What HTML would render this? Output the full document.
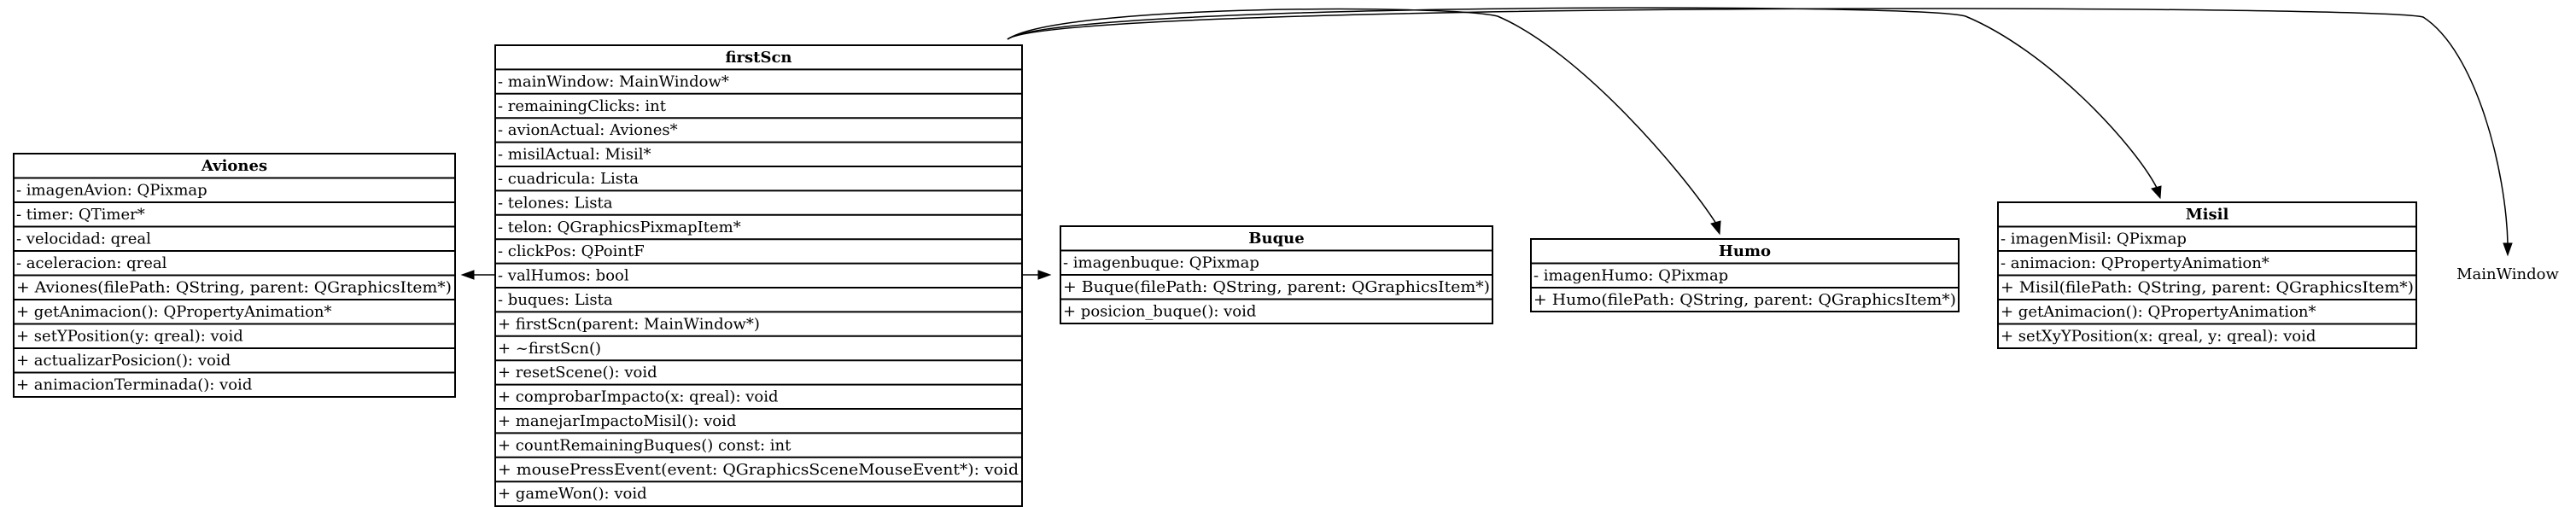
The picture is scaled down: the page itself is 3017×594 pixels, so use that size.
<!DOCTYPE html>
<html><head><meta charset="utf-8"><style>
html,body{margin:0;padding:0;background:#fff;}
svg{display:block;}
text{font-family:"DejaVu Serif","Liberation Serif",serif;font-size:18px;fill:#000;}
.b{font-weight:bold;}
</style></head><body>
<svg width="3017" height="594" viewBox="0 0 3017 594" xmlns="http://www.w3.org/2000/svg">
<g fill="none" stroke="#000" stroke-width="2">
<!-- firstScn -->
<rect x="580" y="53" width="617" height="540"/>
<!-- Aviones -->
<rect x="16" y="180" width="517" height="285"/>
<!-- Buque -->
<rect x="1242" y="265" width="506" height="114"/>
<!-- Humo -->
<rect x="1793" y="280" width="501" height="85"/>
<!-- Misil -->
<rect x="2340" y="237" width="490" height="171"/>
</g>
<g stroke="#000" stroke-width="2" id="lines"></g>
<g stroke="#000" stroke-width="2">
<!-- firstScn rows -->
<line x1="580" y1="81.4" x2="1197" y2="81.4"/><line x1="580" y1="109.8" x2="1197" y2="109.8"/><line x1="580" y1="138.2" x2="1197" y2="138.2"/><line x1="580" y1="166.6" x2="1197" y2="166.6"/><line x1="580" y1="195" x2="1197" y2="195"/><line x1="580" y1="223.4" x2="1197" y2="223.4"/><line x1="580" y1="251.8" x2="1197" y2="251.8"/><line x1="580" y1="280.2" x2="1197" y2="280.2"/><line x1="580" y1="308.6" x2="1197" y2="308.6"/><line x1="580" y1="337" x2="1197" y2="337"/><line x1="580" y1="365.4" x2="1197" y2="365.4"/><line x1="580" y1="393.8" x2="1197" y2="393.8"/><line x1="580" y1="422.2" x2="1197" y2="422.2"/><line x1="580" y1="450.6" x2="1197" y2="450.6"/><line x1="580" y1="479" x2="1197" y2="479"/><line x1="580" y1="507.4" x2="1197" y2="507.4"/><line x1="580" y1="535.8" x2="1197" y2="535.8"/><line x1="580" y1="564.2" x2="1197" y2="564.2"/>
<!-- Aviones rows -->
<line x1="16" y1="208.5" x2="533" y2="208.5"/><line x1="16" y1="237" x2="533" y2="237"/><line x1="16" y1="265.5" x2="533" y2="265.5"/><line x1="16" y1="294" x2="533" y2="294"/><line x1="16" y1="322.5" x2="533" y2="322.5"/><line x1="16" y1="351" x2="533" y2="351"/><line x1="16" y1="379.5" x2="533" y2="379.5"/><line x1="16" y1="408" x2="533" y2="408"/><line x1="16" y1="436.5" x2="533" y2="436.5"/>
<!-- Buque rows -->
<line x1="1242" y1="293.5" x2="1748" y2="293.5"/><line x1="1242" y1="322" x2="1748" y2="322"/><line x1="1242" y1="350.5" x2="1748" y2="350.5"/>
<!-- Humo rows -->
<line x1="1793" y1="308.5" x2="2294" y2="308.5"/><line x1="1793" y1="337" x2="2294" y2="337"/>
<!-- Misil rows -->
<line x1="2340" y1="265.5" x2="2830" y2="265.5"/><line x1="2340" y1="294" x2="2830" y2="294"/><line x1="2340" y1="322.5" x2="2830" y2="322.5"/><line x1="2340" y1="351" x2="2830" y2="351"/><line x1="2340" y1="379.5" x2="2830" y2="379.5"/>
</g>
<!-- edges -->
<g fill="none" stroke="#000" stroke-width="1.5">
<line x1="580" y1="322" x2="553" y2="322"/>
<line x1="1197" y1="322" x2="1218" y2="322"/>
<path d="M1180,46 C1240,5 1700,5 1754,19 C1850,60 1970,200 2010,262"/>
<path d="M1180,46 C1240,3 2250,3 2302,19 C2400,60 2500,170 2526,220"/>
<path d="M1180,46 C1240,2 2780,5 2838,20 C2900,60 2935,200 2937,285"/>
</g>
<g fill="#000" stroke="#000" stroke-width="1">
<polygon points="541,322 555,317 555,327"/>
<polygon points="1230,322 1216,317 1216,327"/>
<polygon points="2014,274 2004,262 2015,259"/>
<polygon points="2530,232 2520,221 2531,218"/>
<polygon points="2937,299 2932,285 2942,285"/>
</g>
<!-- firstScn text -->
<text class="b" x="888.5" y="73" text-anchor="middle">firstScn</text>
<text x="583" y="101.4">- mainWindow: MainWindow*</text>
<text x="583" y="129.8">- remainingClicks: int</text>
<text x="583" y="158.2">- avionActual: Aviones*</text>
<text x="583" y="186.6">- misilActual: Misil*</text>
<text x="583" y="215">- cuadricula: Lista</text>
<text x="583" y="243.4">- telones: Lista</text>
<text x="583" y="271.8">- telon: QGraphicsPixmapItem*</text>
<text x="583" y="300.2">- clickPos: QPointF</text>
<text x="583" y="328.6">- valHumos: bool</text>
<text x="583" y="357">- buques: Lista</text>
<text x="583" y="385.4">+ firstScn(parent: MainWindow*)</text>
<text x="583" y="413.8">+ ~firstScn()</text>
<text x="583" y="442.2">+ resetScene(): void</text>
<text x="583" y="470.6">+ comprobarImpacto(x: qreal): void</text>
<text x="583" y="499">+ manejarImpactoMisil(): void</text>
<text x="583" y="527.4">+ countRemainingBuques() const: int</text>
<text x="583" y="555.8" textLength="610" lengthAdjust="spacingAndGlyphs">+ mousePressEvent(event: QGraphicsSceneMouseEvent*): void</text>
<text x="583" y="584.2">+ gameWon(): void</text>
<!-- Aviones -->
<text class="b" x="274.5" y="200" text-anchor="middle">Aviones</text>
<text x="19" y="228.5">- imagenAvion: QPixmap</text>
<text x="19" y="257">- timer: QTimer*</text>
<text x="19" y="285.5">- velocidad: qreal</text>
<text x="19" y="314">- aceleracion: qreal</text>
<text x="19" y="342.5" textLength="510" lengthAdjust="spacingAndGlyphs">+ Aviones(filePath: QString, parent: QGraphicsItem*)</text>
<text x="19" y="371">+ getAnimacion(): QPropertyAnimation*</text>
<text x="19" y="399.5">+ setYPosition(y: qreal): void</text>
<text x="19" y="428">+ actualizarPosicion(): void</text>
<text x="19" y="456.5">+ animacionTerminada(): void</text>
<!-- Buque -->
<text class="b" x="1495" y="285" text-anchor="middle">Buque</text>
<text x="1245" y="313.5">- imagenbuque: QPixmap</text>
<text x="1245" y="342" textLength="500" lengthAdjust="spacingAndGlyphs">+ Buque(filePath: QString, parent: QGraphicsItem*)</text>
<text x="1245" y="370.5">+ posicion_buque(): void</text>
<!-- Humo -->
<text class="b" x="2043.5" y="300" text-anchor="middle">Humo</text>
<text x="1796" y="328.5">- imagenHumo: QPixmap</text>
<text x="1796" y="357" textLength="495" lengthAdjust="spacingAndGlyphs">+ Humo(filePath: QString, parent: QGraphicsItem*)</text>
<!-- Misil -->
<text class="b" x="2585" y="257" text-anchor="middle">Misil</text>
<text x="2343" y="285.5">- imagenMisil: QPixmap</text>
<text x="2343" y="314">- animacion: QPropertyAnimation*</text>
<text x="2343" y="342.5" textLength="484" lengthAdjust="spacingAndGlyphs">+ Misil(filePath: QString, parent: QGraphicsItem*)</text>
<text x="2343" y="371">+ getAnimacion(): QPropertyAnimation*</text>
<text x="2343" y="399.5">+ setXyYPosition(x: qreal, y: qreal): void</text>
<!-- MainWindow -->
<text x="2937" y="327" text-anchor="middle">MainWindow</text>
</svg>
</body></html>
